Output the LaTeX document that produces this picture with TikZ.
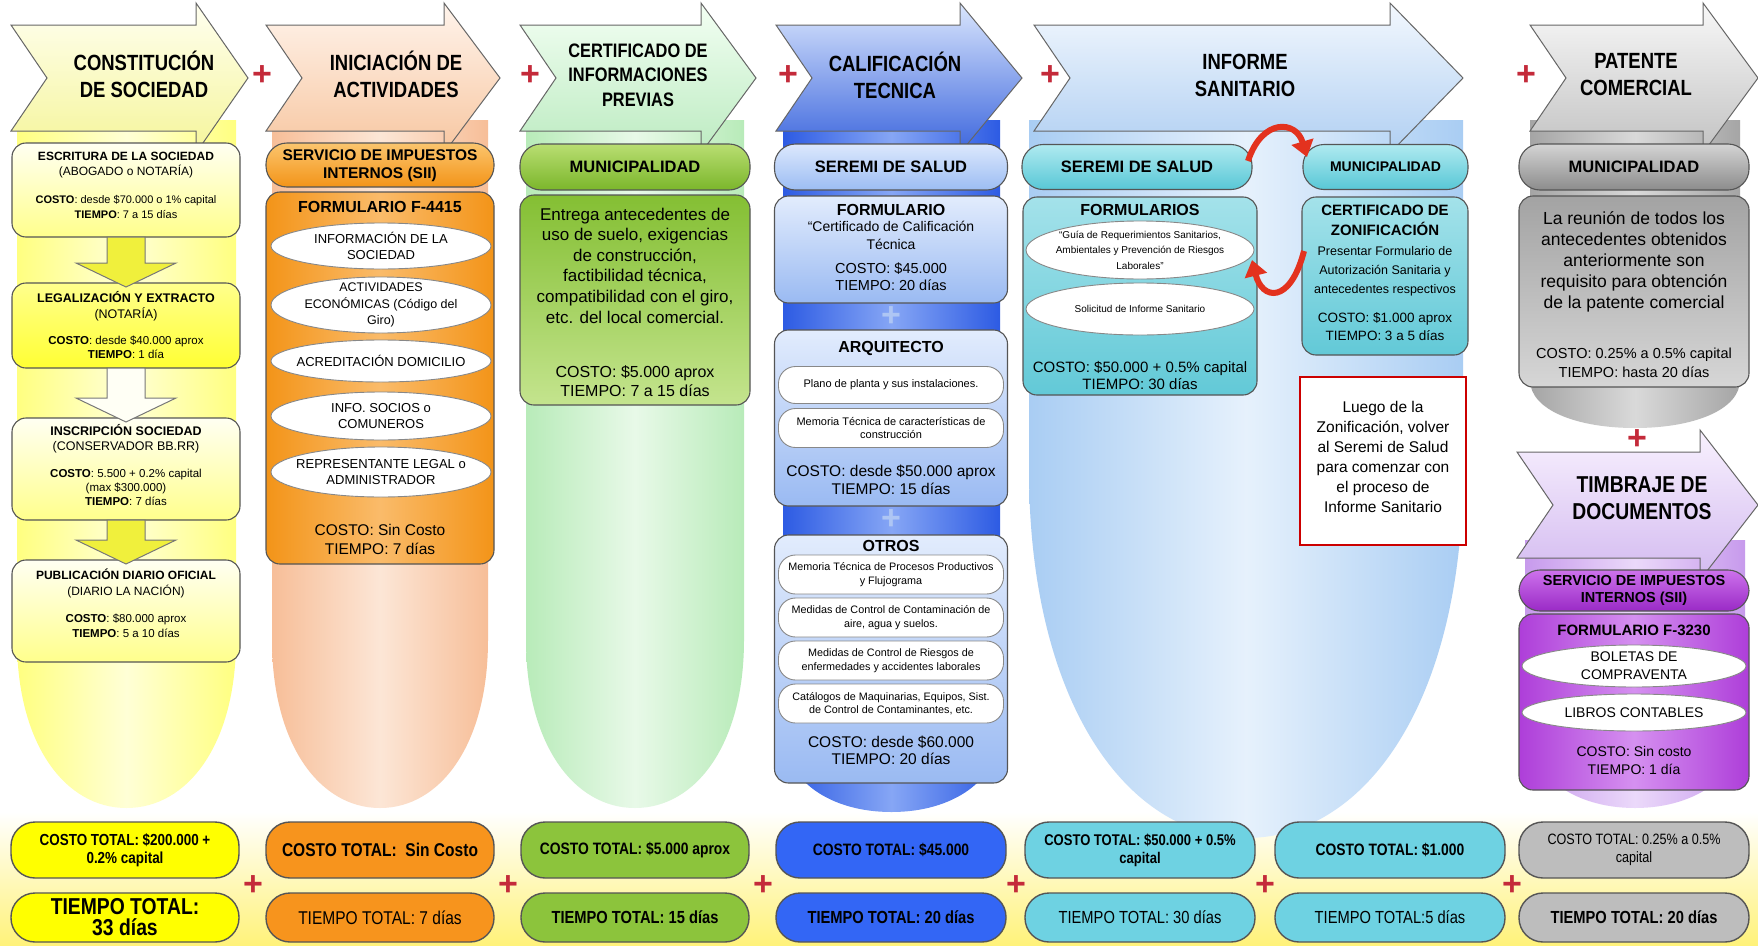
\documentclass[tikz,border=0pt]{standalone}
\usepackage{fontspec}
\setmainfont{Liberation Sans}
\newfontfamily\nar[FakeStretch=0.84]{Liberation Sans}
\usetikzlibrary{calc,arrows.meta,shapes.geometric}
\newcommand\fs[2]{\fontsize{#1}{#2}\selectfont}
\definecolor{edge}{HTML}{555555}
\definecolor{plusred}{HTML}{C42A3A}
\definecolor{arrred}{HTML}{E3321E}
\definecolor{bandY}{HTML}{FFF27A}
\definecolor{Yw}{HTML}{FFFFF2}
\definecolor{Y1}{HTML}{FFFF8C}
\definecolor{Y2}{HTML}{FFFF33}
\definecolor{Yarr}{HTML}{F0F03C}
\definecolor{Ywh}{HTML}{FFFFF5}
\definecolor{Ybright}{HTML}{FFFF00}
\definecolor{O1}{HTML}{FBC56E}
\definecolor{O2}{HTML}{F39418}
\definecolor{O3}{HTML}{F39418}
\definecolor{O4}{HTML}{FABB6A}
\definecolor{Obot}{HTML}{F7941D}
\definecolor{G1}{HTML}{B9DE72}
\definecolor{G2}{HTML}{7BB62B}
\definecolor{G3}{HTML}{84BF33}
\definecolor{G4}{HTML}{C4E48E}
\definecolor{Gbot}{HTML}{8CC43C}
\definecolor{B1}{HTML}{DCE8FD}
\definecolor{B2}{HTML}{9CBDF3}
\definecolor{B3}{HTML}{E2ECFD}
\definecolor{B4}{HTML}{9ABAF2}
\definecolor{Bplus}{HTML}{AEC6F4}
\definecolor{Bbot}{HTML}{3366F5}
\definecolor{T1}{HTML}{B0EAF0}
\definecolor{T2}{HTML}{58C7D6}
\definecolor{T3}{HTML}{A4E2EA}
\definecolor{T4}{HTML}{62C9D7}
\definecolor{Tbot}{HTML}{6ED2E2}
\definecolor{K1}{HTML}{D4D4D4}
\definecolor{K2}{HTML}{8C8C8C}
\definecolor{K3}{HTML}{A3A3A3}
\definecolor{K4}{HTML}{D6D6D6}
\definecolor{Kbot}{HTML}{BDBDBD}
\definecolor{P1}{HTML}{CD72EC}
\definecolor{P2}{HTML}{9A2AC6}
\definecolor{P3}{HTML}{AE3ED9}
\definecolor{P4}{HTML}{D590F0}
\definecolor{Ybg}{HTML}{FFFF80}
\definecolor{Ybgm}{HTML}{FFFFD6}
\definecolor{Obg}{HTML}{F7BE98}
\definecolor{Obgm}{HTML}{FCE6D6}
\definecolor{Gbg}{HTML}{B8EBB9}
\definecolor{Gbgm}{HTML}{E8F9E8}
\definecolor{Bbg}{HTML}{2D5BE3}
\definecolor{Bbgm}{HTML}{86A6F5}
\definecolor{Lbg}{HTML}{A9CDF3}
\definecolor{Lbgm}{HTML}{E6F1FC}
\definecolor{Kbg}{HTML}{A5A5A5}
\definecolor{Kbgm}{HTML}{D9D9D9}
\definecolor{Pbg}{HTML}{C79AEC}
\definecolor{Pbgm}{HTML}{EBD9FA}
\definecolor{A1t}{HTML}{FFFFF0}\definecolor{A1b}{HTML}{F5F59A}
\definecolor{A2t}{HTML}{FFF4EC}\definecolor{A2b}{HTML}{F7C6A0}
\definecolor{A3t}{HTML}{F3FFF3}\definecolor{A3b}{HTML}{BCEBC1}
\definecolor{A4t}{HTML}{DAE6FD}\definecolor{A4b}{HTML}{3B65DD}
\definecolor{A5t}{HTML}{F3F8FE}\definecolor{A5b}{HTML}{B0CFF2}
\definecolor{A6t}{HTML}{F8F8F8}\definecolor{A6b}{HTML}{C2C2C2}
\definecolor{A7t}{HTML}{F8F1FE}\definecolor{A7b}{HTML}{D3BAF0}
\tikzset{
 every node/.style={inner sep=0pt,outer sep=0pt},
 lbl/.style={align=center,text=black},
 shp/.style={draw=edge,line width=1.1pt},
 pill/.style={shp,rectangle,rounded corners=21pt},
 box/.style={shp,rectangle,rounded corners=14pt},
 oval/.style={draw=edge!70,line width=0.9pt,ellipse,fill=white},
 itm/.style={draw=edge!70,line width=0.9pt,rectangle,rounded corners=17pt,fill=white},
 tot/.style={draw=edge,line width=1.4pt,rectangle,rounded corners=24pt},
 plusr/.style={text=plusred,font=\fs{34}{34}\bfseries},
 plusb/.style={text=Bplus,font=\fs{34}{34}\bfseries},
 hdr/.style={lbl,font=\nar\bfseries\fs{22}{27}},
 harrow/.style={draw=gray!80!black,line width=1pt},
 blk/.style={draw=edge!80,line width=1pt},
 redarr/.style={draw=arrred,line width=6pt,-{Triangle[length=16pt,width=22pt]}},
 note/.style={draw=red!80!black,line width=2.4pt,fill=white,rectangle},
}
\newcommand\bgs[6]{\path[#6] (#1,#3) -- (#1,#4) .. controls (#1,{#4+0.62*(#5-#4)}) and ({#1+0.22*(#2-#1)},#5) .. ({(#1+#2)/2},#5) .. controls ({#2-0.22*(#2-#1)},#5) and (#2,{#4+0.62*(#5-#4)}) .. (#2,#4) -- (#2,#3) -- cycle;}
\newcommand\harr[5]{\path[harrow,#5] (#1,{#4-53}) -- (#2,{#4-53}) -- (#2,{#4-75}) -- (#3,#4) -- (#2,{#4+75}) -- (#2,{#4+53}) -- (#1,{#4+53}) -- ({#1+36},#4) -- cycle;}
\newcommand\bx[6]{\node[#6,minimum width=#4pt,minimum height=#5pt] (#1) at (#2,#3) {};}
\newcommand\tx[5]{\node[lbl,font=#4] (#1) at (#2,#3) {#5};}
\newcommand\bxt[8]{\node[#6,minimum width=#4pt,minimum height=#5pt] (#1) at (#2,#3) {};\node[lbl,font=#7] (#1t) at (#2,#3) {#8};}
\newcommand\blkarr[3]{\path[blk,fill=#3] ($(#1.south)+(-19,0)$) -- ($(#2.north)+(-19,-20)$) -- ($(#2.north)+(-50,-20)$) -- ($(#2.north)+(0,4)$) -- ($(#2.north)+(50,-20)$) -- ($(#2.north)+(19,-20)$) -- ($(#1.south)+(19,0)$) -- cycle;}
\begin{document}
\begin{tikzpicture}[x=1pt,y=-1pt]
\useasboundingbox (0,0) rectangle (1758,945);
\fill[white] (0,0) rectangle (1758,945);
% bottom band
\path[top color=white,bottom color=bandY] (0,812) rectangle (1758,945);
% column backgrounds
\bgs{17}{236}{120}{640}{808}{left color=Ybg,right color=Ybg,middle color=Ybgm}
\bgs{272}{488}{120}{640}{808}{left color=Obg,right color=Obg,middle color=Obgm}
\bgs{526}{744}{120}{640}{808}{left color=Gbg,right color=Gbg,middle color=Gbgm}
\bgs{783}{1000}{120}{730}{812}{left color=Bbg,right color=Bbg,middle color=Bbgm}
\bgs{1029}{1463}{120}{470}{838}{left color=Lbg,right color=Lbg,middle color=Lbgm}
\bgs{1530}{1740}{120}{380}{428}{left color=Kbg,right color=Kbg,middle color=Kbgm}
\bgs{1525}{1745}{540}{720}{808}{left color=Pbg,right color=Pbg,middle color=Pbgm}
% header arrows
\harr{11}{196}{248}{78}{top color=A1t,bottom color=A1b}
\harr{266}{444}{500}{78}{top color=A2t,bottom color=A2b}
\harr{520}{701}{756}{78}{top color=A3t,bottom color=A3b}
\harr{776}{960}{1022}{78}{top color=A4t,bottom color=A4b}
\harr{1034}{1390}{1463}{78}{top color=A5t,bottom color=A5b}
\harr{1530}{1703}{1758}{78}{top color=A6t,bottom color=A6b}
\harr{1517}{1700}{1758}{505}{top color=A7t,bottom color=A7b}
\node[hdr] (h1) at (144,74) {CONSTITUCIÓN\\DE SOCIEDAD};
\node[hdr] (h2) at (396,74) {INICIACIÓN DE\\ACTIVIDADES};
\node[hdr,font=\nar\bfseries\fs{19.5}{24.5}] (h3) at (638,75) {CERTIFICADO DE\\INFORMACIONES\\PREVIAS};
\node[hdr] (h4) at (895,75) {CALIFICACIÓN\\TECNICA};
\node[hdr] (h5) at (1245,75) {INFORME\\SANITARIO};
\node[hdr] (h6) at (1636,75) {PATENTE\\COMERCIAL};
\node[hdr,font=\nar\bfseries\fs{23}{27}] (h7) at (1642,498) {TIMBRAJE DE\\DOCUMENTOS};
\node[plusr] (hp1) at (262,76) {+};
\node[plusr] (hp2) at (530,76) {+};
\node[plusr] (hp3) at (788,76) {+};
\node[plusr] (hp4) at (1050,76) {+};
\node[plusr] (hp5) at (1526,76) {+};
% column 1
\bx{c1a}{126}{190}{228}{94}{box,top color=Yw,bottom color=Y1}
\tx{c1at}{126}{165.5}{\fs{12}{15}}{\textbf{ESCRITURA DE LA SOCIEDAD}\\(ABOGADO o NOTARÍA)}
\tx{c1ac}{126}{206.5}{\fs{11}{15}}{\textbf{COSTO}: desde \$70.000 o 1\% capital\\\textbf{TIEMPO}: 7 a 15 días}
\bx{c1b}{126}{325.5}{228}{85}{box,top color=Y1,bottom color=Y2}
\tx{c1bt}{126}{306}{\fs{12.5}{16}}{\textbf{LEGALIZACIÓN Y EXTRACTO}\\(NOTARÍA)}
\tx{c1bc}{126}{347}{\fs{11.5}{14}}{\textbf{COSTO}: desde \$40.000 aprox\\\textbf{TIEMPO}: 1 día}
\bx{c1c}{126}{469}{228}{102}{box,top color=Yw,bottom color=Y1}
\tx{c1ct}{126}{438.5}{\fs{12.5}{15}}{\textbf{INSCRIPCIÓN SOCIEDAD}\\(CONSERVADOR BB.RR)}
\tx{c1cc}{126}{487}{\fs{11.5}{14}}{\textbf{COSTO}: 5.500 + 0.2\% capital\\(max \$300.000)\\\textbf{TIEMPO}: 7 días}
\bx{c1d}{126}{611}{228}{102}{box,top color=Yw,bottom color=Y1}
\tx{c1dt}{126}{583}{\fs{12}{16}}{\textbf{PUBLICACIÓN DIARIO OFICIAL}\\(DIARIO LA NACIÓN)}
\tx{c1dc}{126}{626}{\fs{11.5}{15}}{\textbf{COSTO}: \$80.000 aprox\\\textbf{TIEMPO}: 5 a 10 días}
\blkarr{c1a}{c1b}{Yarr}
\blkarr{c1b}{c1c}{Ywh}
\blkarr{c1c}{c1d}{Yarr}
% column 2
\bx{c2p}{380}{165}{228}{44}{pill,top color=O1,bottom color=O2}
\tx{c2pt}{380}{166}{\fs{15.5}{18}\bfseries}{SERVICIO DE IMPUESTOS\\INTERNOS (SII)}
\bx{c2b}{380}{378}{228}{372}{box,left color=O3,right color=O3,middle color=O4}
\tx{c2bt}{380}{207}{\fs{16}{18}\bfseries}{FORMULARIO F-4415}
\bxt{c2e1}{381}{246}{220}{46}{oval}{\fs{13}{16}}{INFORMACIÓN DE LA\\SOCIEDAD}
\bxt{c2e2}{381}{305}{220}{56}{oval}{\fs{12.5}{16.5}}{ACTIVIDADES\\ECONÓMICAS (Código del\\Giro)}
\bxt{c2e3}{381}{361}{220}{42}{oval}{\fs{13}{16}}{ACREDITACIÓN DOMICILIO}
\bxt{c2e4}{381}{416}{220}{48}{oval}{\fs{13}{16}}{INFO. SOCIOS o\\COMUNEROS}
\bxt{c2e5}{381}{472}{220}{50}{oval}{\fs{13}{16}}{REPRESENTANTE LEGAL o\\ADMINISTRADOR}
\tx{c2bc}{380}{539.5}{\fs{15.5}{19}}{COSTO: Sin Costo\\TIEMPO: 7 días}
% column 3
\bx{c3p}{635}{167}{230}{46}{pill,top color=G1,bottom color=G2}
\tx{c3pt}{635}{167}{\fs{16.5}{18}\bfseries}{MUNICIPALIDAD}
\bx{c3b}{635}{300}{230}{210}{box,top color=G3,bottom color=G4}
\tx{c3bt}{635}{265.5}{\fs{17}{20.6}}{Entrega antecedentes de\\uso de suelo, exigencias\\de construcción,\\factibilidad técnica,\\compatibilidad con el giro,\\etc. del local comercial.}
\tx{c3bc}{635}{381.5}{\fs{16}{19}}{COSTO: \$5.000 aprox\\TIEMPO: 7 a 15 días}
% column 4
\bx{c4p}{891}{167}{233}{46}{pill,top color=B1,bottom color=B2}
\tx{c4pt}{891}{167}{\fs{16.5}{18}\bfseries}{SEREMI DE SALUD}
\bx{c4f}{891}{249.5}{233}{107}{box,top color=B3,bottom color=B4}
\tx{c4ft}{891}{210}{\fs{16}{18}\bfseries}{FORMULARIO}
\tx{c4fd}{891}{235}{\fs{14}{18}}{“Certificado de Calificación\\Técnica}
\tx{c4fc}{891}{276.5}{\fs{14.5}{17}}{COSTO: \$45.000\\TIEMPO: 20 días}
\node[plusb] (c4x1) at (891,317) {+};
\bx{c4a}{891}{418}{233}{176}{box,top color=B3,bottom color=B4}
\tx{c4at}{891}{348}{\fs{16}{18}\bfseries}{ARQUITECTO}
\bxt{c4a1}{891}{385}{225}{37}{itm}{\fs{11}{13.5}}{Plano de planta y sus instalaciones.}
\bxt{c4a2}{891}{428}{225}{39}{itm}{\fs{11}{13.5}}{Memoria Técnica de características de\\construcción}
\tx{c4ac}{891}{479.5}{\fs{15.5}{18}}{COSTO: desde \$50.000 aprox\\TIEMPO: 15 días}
\node[plusb] (c4x2) at (891,520) {+};
\bx{c4o}{891}{659}{233}{248}{box,top color=B3,bottom color=B4}
\tx{c4ot}{891}{546}{\fs{16}{18}\bfseries}{OTROS}
\bxt{c4o1}{891}{574.5}{225}{39}{itm}{\fs{10.8}{13.5}}{Memoria Técnica de Procesos Productivos\\y Flujograma}
\bxt{c4o2}{891}{617.5}{225}{39}{itm}{\fs{10.8}{13.5}}{Medidas de Control de Contaminación de\\aire, agua y suelos.}
\bxt{c4o3}{891}{660.5}{225}{39}{itm}{\fs{10.8}{13.5}}{Medidas de Control de Riesgos de\\enfermedades y accidentes laborales}
\bxt{c4o4}{891}{703.5}{225}{39}{itm}{\fs{10.8}{13.5}}{Catálogos de Maquinarias, Equipos, Sist.\\de Control de Contaminantes, etc.}
\tx{c4oc}{891}{750.5}{\fs{15.5}{17}}{COSTO: desde \$60.000\\TIEMPO: 20 días}
% column 5
\bx{c5s}{1137}{167}{230}{45}{pill,top color=T1,bottom color=T2}
\tx{c5st}{1137}{167}{\fs{16.5}{18}\bfseries}{SEREMI DE SALUD}
\bx{c5m}{1385.5}{167}{165}{45}{pill,top color=T1,bottom color=T2}
\tx{c5mt}{1385.5}{167}{\fs{14}{16}\bfseries}{MUNICIPALIDAD}
\bx{c5f}{1140}{296}{234}{198}{box,top color=T3,bottom color=T4}
\tx{c5ft}{1140}{210}{\fs{16}{18}\bfseries}{FORMULARIOS}
\bxt{c5g}{1140}{250}{228}{58}{oval}{\fs{10}{15.5}}{“Guía de Requerimientos Sanitarios,\\Ambientales y Prevención de Riesgos\\Laborales”}
\bxt{c5o}{1140}{309}{228}{52}{oval}{\fs{10}{12}}{Solicitud de Informe Sanitario}
\tx{c5fc}{1140}{375.5}{\fs{15}{17}}{COSTO: \$50.000 + 0.5\% capital\\TIEMPO: 30 días}
\bx{c5z}{1385}{276}{166}{158}{box,top color=T3,bottom color=T4}
\tx{c5zt}{1385}{220}{\fs{15}{20}\bfseries}{CERTIFICADO DE\\ZONIFICACIÓN}
\tx{c5zd}{1385}{271.5}{\fs{12.5}{19}}{Presentar Formulario de\\Autorización Sanitaria y\\antecedentes respectivos}
\tx{c5zc}{1385}{327}{\fs{13.5}{18}}{COSTO: \$1.000 aprox\\TIEMPO: 3 a 5 días}
\node[note,minimum width=166pt,minimum height=168pt] (c5n) at (1383,461) {};
\tx{c5nt}{1383}{457}{\fs{15.5}{20}}{Luego de la\\Zonificación, volver\\al Seremi de Salud\\para comenzar con\\el proceso de\\Informe Sanitario}
\draw[redarr] ($(c5s.east)+(-4,-6)$) .. controls (1262,118) and (1296,120) .. ($(c5m.west)+(4,-10)$);
\draw[redarr] ($(c5z.west)+(2,-25)$) .. controls (1290,305) and (1262,300) .. ($(c5g.east)+(-2,10)$);
% column 6
\bx{c6p}{1634}{167}{230}{46}{pill,top color=K1,bottom color=K2}
\tx{c6pt}{1634}{167}{\fs{16.5}{18}\bfseries}{MUNICIPALIDAD}
\bx{c6b}{1634}{291.5}{230}{191}{box,top color=K3,bottom color=K4}
\tx{c6bt}{1634}{262}{\fs{17.5}{21}}{La reunión de todos los\\antecedentes obtenidos\\anteriormente son\\requisito para obtención\\de la patente comercial}
\tx{c6bc}{1634}{362.5}{\fs{14.5}{19}}{COSTO: 0.25\% a 0.5\% capital\\TIEMPO: hasta 20 días}
\node[plusr] (c6x) at (1637,440) {+};
\bxt{c6s}{1634}{590.5}{230}{41}{pill,top color=P1,bottom color=P2}{\fs{14.5}{17}\bfseries}{SERVICIO DE IMPUESTOS\\INTERNOS (SII)}
\bx{c6f}{1634}{702}{230}{176}{box,left color=P3,right color=P3,middle color=P4}
\tx{c6ft}{1634}{630}{\fs{15}{17}\bfseries}{FORMULARIO F-3230}
\bxt{c6o1}{1634}{666}{224}{42}{oval}{\fs{14}{18}}{BOLETAS DE\\COMPRAVENTA}
\bxt{c6o2}{1634}{712.5}{224}{37}{oval}{\fs{14}{16}}{LIBROS CONTABLES}
\tx{c6fc}{1634}{760}{\fs{14}{18}}{COSTO: Sin costo\\TIEMPO: 1 día}
% totals
\bxt{t1a}{125}{850}{228}{56}{tot,fill=Ybright}{\nar\bfseries\fs{16}{18}}{COSTO TOTAL: \$200.000 +\\0.2\% capital}
\bxt{t1b}{125}{917.5}{228}{49}{tot,fill=Ybright}{\nar\bfseries\fs{23}{21}}{TIEMPO TOTAL:\\33 días}
\bxt{t2a}{380}{850}{228}{56}{tot,fill=Obot}{\nar\bfseries\fs{18.5}{20}}{COSTO TOTAL:\ \ Sin Costo}
\bxt{t2b}{380}{917.5}{228}{49}{tot,fill=Obot}{\nar\fs{18.5}{20}}{TIEMPO TOTAL: 7 días}
\bxt{t3a}{635}{850}{228}{56}{tot,fill=Gbot}{\nar\bfseries\fs{16.5}{20}}{COSTO TOTAL: \$5.000 aprox}
\bxt{t3b}{635}{917.5}{228}{49}{tot,fill=Gbot}{\nar\bfseries\fs{17.5}{20}}{TIEMPO TOTAL: 15 días}
\bxt{t4a}{891}{850}{230}{56}{tot,fill=Bbot}{\nar\bfseries\fs{16.5}{20}}{COSTO TOTAL: \$45.000}
\bxt{t4b}{891}{917.5}{230}{49}{tot,fill=Bbot}{\nar\bfseries\fs{17.5}{20}}{TIEMPO TOTAL: 20 días}
\bxt{t5a}{1140}{850}{230}{56}{tot,fill=Tbot}{\nar\bfseries\fs{15.5}{18}}{COSTO TOTAL: \$50.000 + 0.5\%\\capital}
\bxt{t5b}{1140}{917.5}{230}{49}{tot,fill=Tbot}{\nar\fs{17.5}{20}}{TIEMPO TOTAL: 30 días}
\bxt{t6a}{1390}{850}{230}{56}{tot,fill=Tbot}{\nar\bfseries\fs{16.5}{20}}{COSTO TOTAL: \$1.000}
\bxt{t6b}{1390}{917.5}{230}{49}{tot,fill=Tbot}{\nar\fs{17.5}{20}}{TIEMPO TOTAL:5 días}
\bxt{t7a}{1634}{850}{230}{56}{tot,fill=Kbot}{\nar\fs{15}{18}}{COSTO TOTAL: 0.25\% a 0.5\%\\capital}
\bxt{t7b}{1634}{917.5}{230}{49}{tot,fill=Kbot}{\nar\bfseries\fs{17.5}{20}}{TIEMPO TOTAL: 20 días}
\node[plusr] (bp1) at (253,886) {+};
\node[plusr] (bp2) at (508,886) {+};
\node[plusr] (bp3) at (763,886) {+};
\node[plusr] (bp4) at (1016,886) {+};
\node[plusr] (bp5) at (1265,886) {+};
\node[plusr] (bp6) at (1512,886) {+};
\end{tikzpicture}
\end{document}
